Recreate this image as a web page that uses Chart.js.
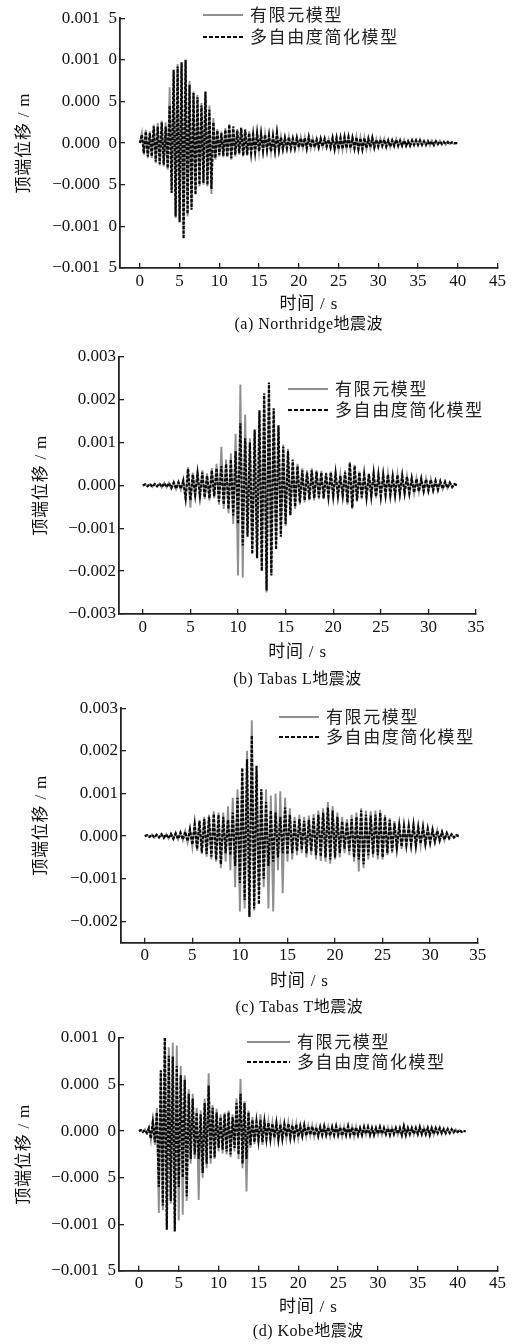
<!DOCTYPE html>
<html>
<head>
<meta charset="utf-8">
<script src="https://cdn.jsdelivr.net/npm/chart.js@4.4.1/dist/chart.umd.min.js"></script>
<style>
    html, body { margin: 0; padding: 0; background: #fff; }
    .panel { position: absolute; left: 0; width: 514px; }
</style>
</head>
<body>
<div class="panel" style="top:0"><canvas id="chartA" width="514" height="335"></canvas></div>
<div class="panel" style="top:335px"><canvas id="chartB" width="514" height="355"></canvas></div>
<div class="panel" style="top:690px"><canvas id="chartC" width="514" height="328"></canvas></div>
<div class="panel" style="top:1018px"><canvas id="chartD" width="514" height="326"></canvas></div>
<script>
// Top displacement time histories.
// Unit: 1e-5 m, one value every 0.25 s starting at t = 0.
const dt = 0.25;

// (a) Northridge, 0 - 40 s
const feA = [
    0, 12, -14, 16, -18, 14, -18, 22, -24, 24, -27, 27, -28, 25, -32, 67, -55, 85, -90, 95,
    -92, 95, -112, 98, -88, 75, -78, 62, -60, 58, -52, 48, -50, 60, -52, 45, -61, 30, -20, 17,
    -16, 14, -17, 18, -17, 23, -20, 18, -16, 17, -14, 19, -16, 17, -15, 14, -13, 12, -12, 13,
    -11, 12, -10, 11, -9, 10, -11, 10, -10, 13, -9, 8, -8, 7, -7, 8, -7, 6, -7, 7,
    -6, 7, -6, 7, -7, 8, -6, 6, -6, 5, -6, 6, -5, 6, -5, 5, -6, 7, -8, 7,
    -8, 7, -8, 8, -7, 8, -7, 7, -7, 8, -8, 7, -8, 7, -7, 6, -6, 7, -6, 5,
    -5, 5, -4, 5, -5, 4, -5, 4, -4, 5, -4, 4, -4, 4, -4, 3, -4, 4, -3, 4,
    -3, 4, -3, 3, -3, 3, -3, 3, -3, 3, -2, 3, -2, 2, -2, 2, -1, 1, -1, 0,
    0
];
const mdofA = [
    0, 10, -12, 14, -16, 12, -16, 20, -22, 20, -25, 25, -26, 20, -30, 45, -60, 88, -88, 92,
    -95, 97, -115, 100, -85, 70, -80, 60, -62, 55, -50, 45, -48, 62, -50, 40, -55, 25, -18, 15,
    -14, 12, -15, 16, -16, 22, -18, 20, -14, 15, -12, 18, -15, 16, -14, 12, -12, 10, -11, 12,
    -10, 11, -9, 10, -8, 9, -10, 8, -9, 12, -8, 7, -7, 6, -6, 7, -6, 5, -6, 6,
    -5, 6, -5, 6, -6, 7, -5, 5, -5, 4, -5, 5, -4, 5, -4, 4, -5, 6, -7, 6,
    -7, 6, -7, 7, -6, 7, -6, 6, -6, 7, -7, 6, -7, 6, -6, 5, -5, 6, -5, 4,
    -4, 4, -3, 4, -4, 3, -4, 3, -3, 4, -3, 3, -3, 3, -3, 2, -3, 3, -2, 3,
    -2, 3, -2, 2, -2, 2, -2, 2, -2, 2, -1, 2, -1, 1, -1, 1, -1, 1, 0, 0,
    0
];

// (b) Tabas L, 0 - 33 s
const feB = [
    0, 3, -2, 3, -4, 3, -3, 4, -5, 6, -5, 6, -7, 8, -9, 8, -10, 14, -35, 42,
    -52, 30, -28, 32, -30, 35, -32, 28, -35, 40, -30, 50, -45, 90, -55, 60, -65, 75, -90, 120,
    -210, 235, -215, 165, -110, 110, -150, 125, -165, 170, -195, 210, -250, 235, -205, 175, -145, 135, -115, 95,
    -95, 85, -65, 55, -55, 50, -45, 40, -40, 35, -35, 40, -35, 35, -32, 34, -32, 30, -30, 32,
    -30, 30, -28, 25, -28, 35, -45, 55, -55, 48, -38, 32, -32, 28, -30, 28, -28, 30, -30, 26,
    -28, 26, -25, 27, -25, 23, -25, 26, -22, 25, -20, 22, -20, 18, -19, 17, -16, 17, -15, 16,
    -14, 15, -13, 12, -12, 10, -9, 9, -7, 7, -5, 4,
    0
];
const mdofB = [
    0, 2, -2, 3, -3, 3, -2, 4, -4, 5, -4, 5, -6, 6, -8, 7, -8, 10, -30, 38,
    -35, 25, -22, 28, -25, 30, -28, 22, -30, 35, -25, 40, -38, 45, -45, 50, -55, 60, -70, 80,
    -90, 145, -140, 110, -120, 100, -160, 130, -170, 175, -200, 215, -245, 240, -210, 180, -150, 140, -120, 90,
    -90, 80, -70, 60, -50, 45, -40, 35, -35, 30, -32, 35, -30, 32, -28, 30, -30, 28, -26, 30,
    -25, 28, -25, 22, -24, 30, -40, 52, -52, 45, -35, 30, -28, 25, -28, 26, -25, 28, -26, 24,
    -25, 24, -22, 25, -22, 20, -22, 24, -20, 22, -18, 20, -18, 16, -17, 15, -14, 15, -13, 14,
    -12, 13, -11, 10, -10, 9, -8, 8, -6, 6, -4, 3,
    0
];

// (c) Tabas T, 0 - 33 s
const feC = [
    0, 3, -2, 4, -4, 4, -4, 5, -5, 5, -6, 6, -7, 8, -8, 9, -10, 12, -15, 18,
    -25, 30, -35, 38, -42, 45, -48, 50, -55, 58, -60, 55, -75, 55, -60, 70, -80, 90, -120, 110,
    -177, 150, -170, 200, -190, 272, -175, 150, -130, 110, -120, 110, -170, 95, -177, 100, -80, 105, -134, 90,
    -60, 65, -55, 45, -45, 50, -40, 45, -50, 48, -45, 52, -55, 60, -58, 65, -60, 80, -65, 70,
    -55, 55, -50, 45, -40, 40, -45, 50, -60, 55, -83, 65, -75, 60, -55, 58, -50, 60, -55, 62,
    -55, 50, -45, 42, -40, 35, -33, 30, -30, 27, -25, 26, -24, 28, -26, 24, -22, 24, -21, 19,
    -18, 17, -15, 14, -12, 11, -10, 8, -6, 5, -4, 3,
    0
];
const mdofC = [
    0, 2, -2, 3, -3, 3, -3, 4, -4, 4, -5, 5, -6, 6, -7, 8, -8, 10, -12, 15,
    -20, 28, -30, 35, -38, 40, -42, 45, -48, 52, -55, 50, -66, 45, -40, 38, -45, 55, -70, 90,
    -110, 160, -150, 180, -189, 236, -170, 165, -160, 110, -100, 80, -70, 60, -60, 55, -50, 45, -40, 67,
    -43, 50, -40, 35, -35, 40, -32, 36, -40, 38, -35, 42, -45, 50, -48, 55, -50, 67, -55, 60,
    -50, 45, -40, 35, -30, 32, -35, 40, -50, 45, -55, 60, -66, 50, -45, 48, -42, 50, -45, 55,
    -50, 45, -40, 38, -35, 30, -28, 25, -25, 22, -20, 22, -20, 25, -22, 20, -18, 20, -18, 16,
    -15, 14, -12, 12, -10, 9, -8, 7, -5, 4, -3, 2,
    0
];

// (d) Kobe, 0 - 41 s
const feD = [
    0, 1, -1, 2, -2, 4, -10, 12, -15, 25, -88, 66, -85, 100, -100, 90, -78, 95, -100, 92,
    -96, 70, -90, 60, -75, 45, -35, 40, -30, 25, -74, 22, -50, 35, -40, 62, -35, 28, -30, 24,
    -22, 18, -24, 20, -25, 22, -28, 18, -22, 35, -30, 56, -40, 32, -65, 22, -18, 15, -14, 12,
    -12, 18, -15, 12, -10, 10, -10, 9, -9, 10, -10, 8, -9, 8, -8, 9, -8, 7, -8, 8,
    -8, 6, -6, 7, -6, 6, -5, 6, -6, 5, -6, 5, -5, 6, -5, 5, -6, 5, -5, 6,
    -5, 5, -6, 5, -5, 6, -5, 5, -6, 5, -5, 4, -5, 5, -4, 5, -5, 4, -5, 4,
    -4, 5, -4, 4, -4, 4, -5, 4, -4, 4, -4, 4, -5, 6, -5, 4, -4, 4, -4, 4,
    -4, 5, -4, 4, -4, 4, -5, 4, -4, 4, -3, 4, -3, 3, -3, 3, -2, 2, -2, 2,
    -1, 1, -1, 0,
    0
];
const mdofD = [
    0, 1, -1, 1, -2, 3, -8, 10, -12, 20, -60, 65, -80, 106, -106, 81, -75, 80, -108, 70,
    -60, 60, -50, 55, -70, 40, -30, 35, -25, 20, -30, 18, -45, 30, -35, 49, -30, 25, -28, 20,
    -18, 15, -20, 18, -22, 20, -25, 15, -18, 30, -25, 40, -35, 30, -30, 20, -15, 12, -12, 10,
    -10, 12, -12, 10, -8, 9, -8, 8, -7, 8, -9, 7, -8, 7, -6, 8, -7, 6, -6, 7,
    -6, 5, -5, 6, -5, 5, -4, 5, -5, 4, -5, 4, -4, 5, -4, 4, -5, 4, -4, 5,
    -4, 4, -5, 4, -4, 5, -4, 4, -5, 4, -4, 3, -4, 4, -3, 4, -4, 3, -4, 3,
    -3, 4, -3, 3, -3, 3, -4, 3, -3, 3, -3, 3, -4, 5, -4, 3, -3, 3, -3, 3,
    -3, 4, -3, 3, -3, 3, -4, 3, -3, 3, -2, 3, -2, 2, -2, 2, -2, 2, -1, 1,
    -1, 1, -1, 0,
    0
];

// axis ticks (y in 1e-5 m) and their printed labels
const xTicks45 = [0, 5, 10, 15, 20, 25, 30, 35, 40, 45];
const xTicks35 = [0, 5, 10, 15, 20, 25, 30, 35];
const yTicksA = [-150, -100, -50, 0, 50, 100, 150];
const yLabelsA = ['\u22120.001\u20025', '\u22120.001\u20020', '\u22120.000\u20025', '0.000\u20020', '0.000\u20025', '0.001\u20020', '0.001\u20025'];
const yTicksB = [-300, -200, -100, 0, 100, 200, 300];
const yLabelsB = ['\u22120.003', '\u22120.002', '\u22120.001', '0.000', '0.001', '0.002', '0.003'];
const yTicksC = [-200, -100, 0, 100, 200, 300];
const yLabelsC = ['\u22120.002', '\u22120.001', '0.000', '0.001', '0.002', '0.003'];
const yTicksD = [-150, -100, -50, 0, 50, 100];
const yLabelsD = ['\u22120.001\u20025', '\u22120.001\u20020', '\u22120.000\u20025', '0.000\u20020', '0.000\u20025', '0.001\u20020'];

const seriesNames = ['有限元模型', '多自由度简化模型'];
const yTitle = '顶端位移 / m';
const xTitle = '时间 / s';

const panels = [
    { id: 'chartA', fe: feA, mdof: mdofA, xMax: 45, xTicks: xTicks45, yMin: -150, yMax: 150, yTicks: yTicksA, yLabels: yLabelsA,
      caption: '(a) Northridge地震波', pad: { left: 0, right: 14, top: 11, bottom: 37 }, yWidth: 120,
      text: { yTitleX: 25, xTitleY: 305, captionY: 325, legX: 203, legW: 40, legY1: 15, legY2: 37 } },
    { id: 'chartB', fe: feB, mdof: mdofB, xMax: 35, xTicks: xTicks35, yMin: -300, yMax: 300, yTicks: yTicksB, yLabels: yLabelsB,
      caption: '(b) Tabas L地震波', pad: { left: 0, right: 38, top: 21.7, bottom: 46 }, yWidth: 119,
      text: { yTitleX: 42, xTitleY: 318, captionY: 345, legX: 288, legW: 40, legY1: 54, legY2: 75 } },
    { id: 'chartC', fe: feC, mdof: mdofC, xMax: 35, xTicks: xTicks35, yMin: -250, yMax: 300, yTicks: yTicksC, yLabels: yLabelsC,
      caption: '(c) Tabas T地震波', pad: { left: 0, right: 36.3, top: 17, bottom: 45.3 }, yWidth: 121,
      text: { yTitleX: 42, xTitleY: 292, captionY: 318, legX: 279, legW: 40, legY1: 27, legY2: 47 } },
    { id: 'chartD', fe: feD, mdof: mdofD, xMax: 45, xTicks: xTicks45, yMin: -150, yMax: 100, yTicks: yTicksD, yLabels: yLabelsD,
      caption: '(d) Kobe地震波', pad: { left: 0, right: 14.7, top: 20, bottom: 43.3 }, yWidth: 119,
      text: { yTitleX: 25, xTitleY: 290, captionY: 314, legX: 247, legW: 43, legY1: 24, legY2: 44 } }
];

const toPoints = vals => vals.map((v, i) => ({ x: i * dt, y: v }));

// axis titles, caption and the in-plot legend
const panelText = {
    id: 'panelText',
    afterDraw(chart, args, opts) {
        const ctx = chart.ctx, area = chart.chartArea;
        const midX = (area.left + area.right) / 2;
        ctx.save();
        ctx.fillStyle = '#111';
        ctx.textAlign = 'center';
        ctx.textBaseline = 'middle';
        ctx.font = "17px 'Liberation Serif', 'Noto Sans CJK SC'";
        ctx.letterSpacing = '0.8px';
        ctx.save();
        ctx.translate(opts.yTitleX, (area.top + area.bottom) / 2);
        ctx.rotate(-Math.PI / 2);
        ctx.fillText(yTitle, 0, 0);
        ctx.restore();
        ctx.fillText(xTitle, midX, opts.xTitleY);
        ctx.font = "16px 'Liberation Serif', 'Noto Sans CJK SC'";
        ctx.letterSpacing = '0.5px';
        ctx.fillText(opts.caption, midX, opts.captionY);

        // legend rows follow dataset order
        ctx.textAlign = 'left';
        ctx.font = "17px 'Noto Sans CJK SC'";
        ctx.letterSpacing = '1.6px';
        chart.data.datasets.forEach((ds, i) => {
            const y = i === 0 ? opts.legY1 : opts.legY2;
            ctx.beginPath();
            ctx.strokeStyle = ds.borderColor;
            ctx.lineWidth = i === 0 ? 1.8 : 2.2;
            ctx.setLineDash(i === 0 ? [] : [4, 2]);
            ctx.moveTo(opts.legX, y);
            ctx.lineTo(opts.legX + opts.legW, y);
            ctx.stroke();
            ctx.setLineDash([]);
            ctx.fillStyle = '#222';
            ctx.fillText(ds.label, opts.legX + opts.legW + 7, y);
        });
        ctx.restore();
    }
};

panels.forEach(p => {
    const tickFont = { family: "'Liberation Serif', 'DejaVu Serif', serif", size: 17 };
    new Chart(document.getElementById(p.id), {
        type: 'line',
        data: {
            datasets: [
                { label: seriesNames[0], data: toPoints(p.fe), borderColor: '#8f8f8f', borderWidth: 1.9, order: 1 },
                { label: seriesNames[1], data: toPoints(p.mdof), borderColor: '#0a0a0a', borderWidth: 2.2, borderDash: [3, 1.5], order: 0 }
            ]
        },
        options: {
            responsive: false,
            animation: false,
            parsing: false,
            normalized: true,
            elements: { point: { radius: 0 }, line: { tension: 0 } },
            layout: { padding: p.pad },
            plugins: {
                legend: { display: false },
                tooltip: { enabled: false },
                panelText: Object.assign({ caption: p.caption }, p.text)
            },
            scales: {
                x: {
                    type: 'linear',
                    min: -2.5,
                    max: p.xMax,
                    afterBuildTicks: s => { s.ticks = p.xTicks.map(v => ({ value: v })); },
                    afterFit: s => { s.height = 30; },
                    grid: { drawOnChartArea: false, tickLength: -5, color: '#222', lineWidth: 1.3 },
                    border: { color: '#222', width: 1.8 },
                    ticks: { padding: 8, color: '#111', font: tickFont, maxRotation: 0, autoSkip: false }
                },
                y: {
                    min: p.yMin,
                    max: p.yMax,
                    afterBuildTicks: s => { s.ticks = p.yTicks.map(v => ({ value: v })); },
                    afterFit: s => { s.width = p.yWidth; },
                    grid: { drawOnChartArea: false, tickLength: -5, color: '#222', lineWidth: 1.3 },
                    border: { color: '#222', width: 1.8 },
                    ticks: {
                        padding: 8, color: '#111', font: tickFont, autoSkip: false,
                        callback: v => p.yLabels[p.yTicks.indexOf(v)]
                    }
                }
            }
        },
        plugins: [panelText]
    });
});
</script>
</body>
</html>
